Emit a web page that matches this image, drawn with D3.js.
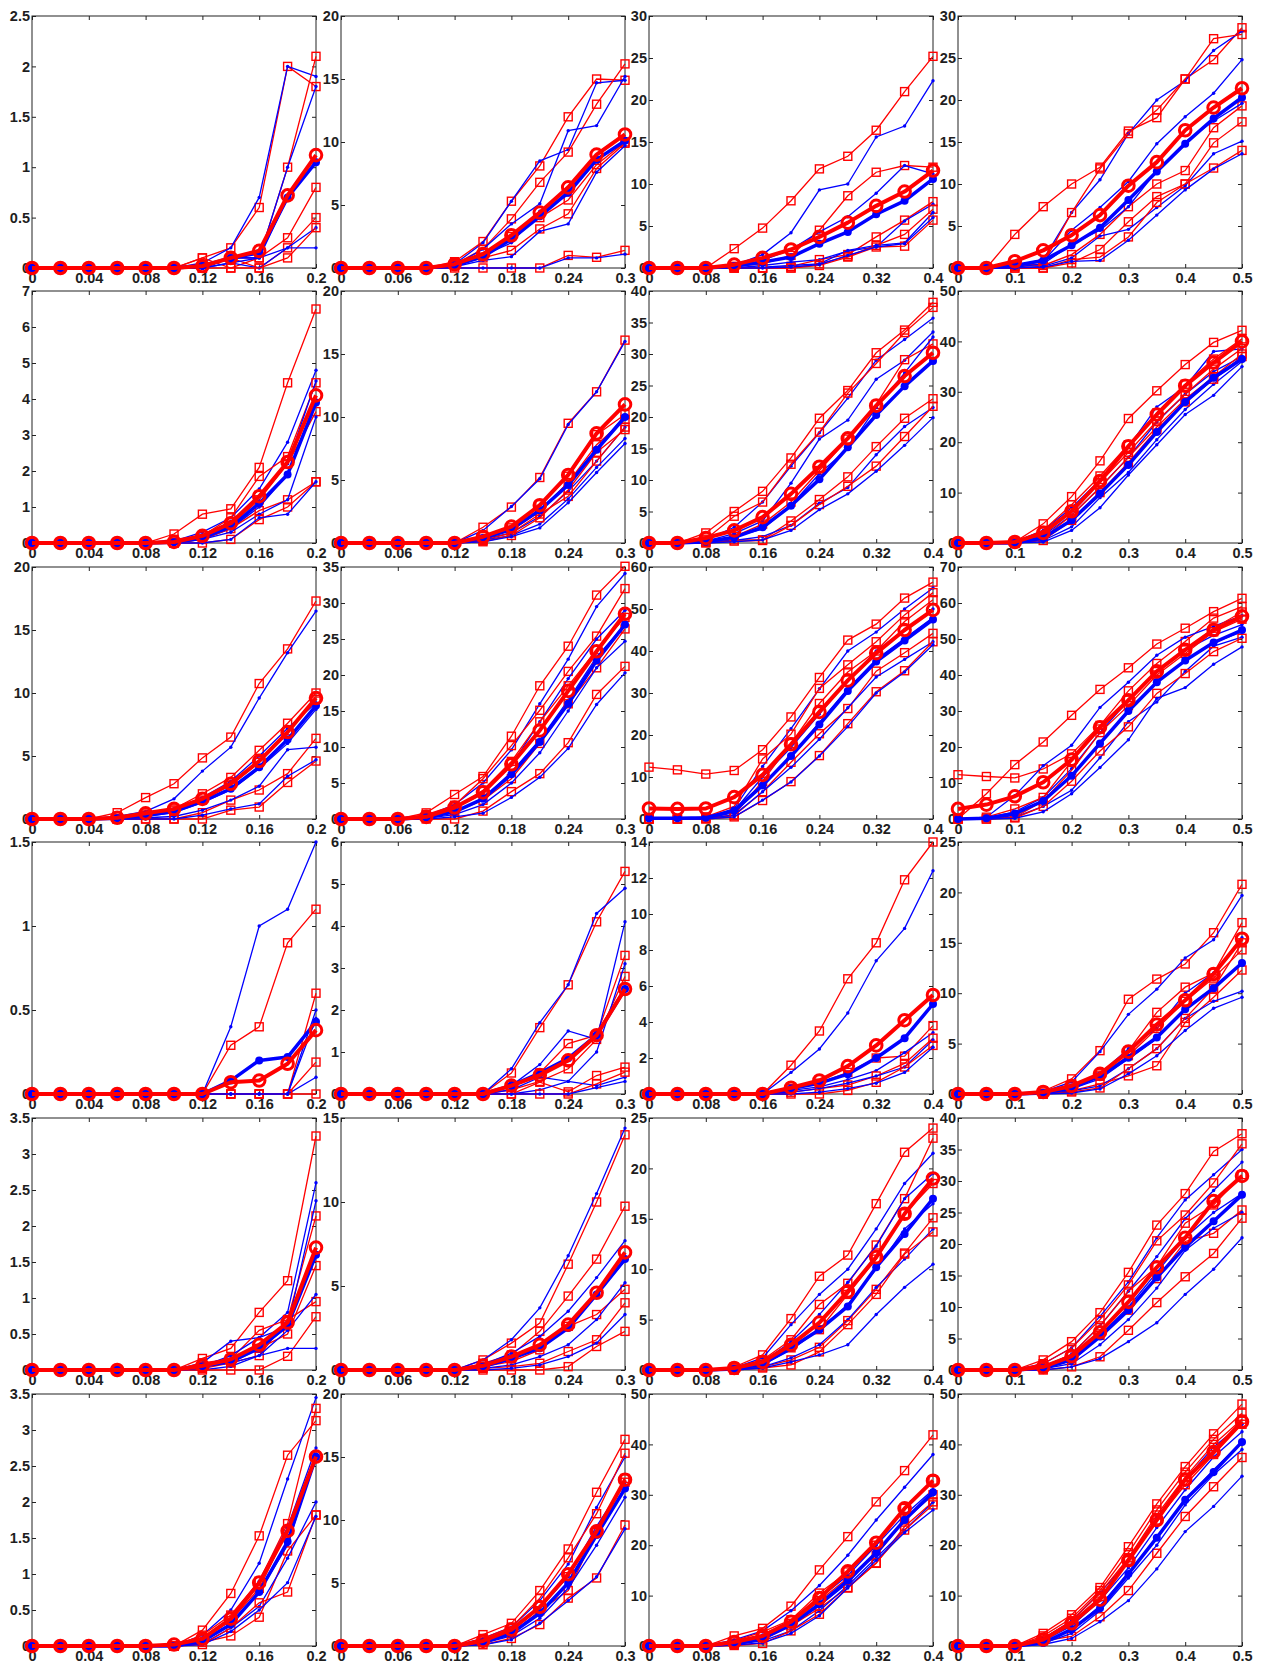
<!DOCTYPE html>
<html>
<head>
<meta charset="utf-8">
<script src="https://cdn.jsdelivr.net/npm/d3@7"></script>
<style>
  body { margin: 0; background: #fff; }
  svg text { font-family: "Liberation Sans", Arial, sans-serif; font-weight: bold; font-size: 14.5px; fill: #1e1e1e; }
</style>
</head>
<body>
<svg id="chart" width="1265" height="1664"></svg>
<script>
  // ---- x grid and ticks, one per column ----
  const colX = [
    [0, 0.02, 0.04, 0.06, 0.08, 0.1, 0.12, 0.14, 0.16, 0.18, 0.2],
    [0, 0.03, 0.06, 0.09, 0.12, 0.15, 0.18, 0.21, 0.24, 0.27, 0.3],
    [0, 0.04, 0.08, 0.12, 0.16, 0.2, 0.24, 0.28, 0.32, 0.36, 0.4],
    [0, 0.05, 0.1, 0.15, 0.2, 0.25, 0.3, 0.35, 0.4, 0.45, 0.5]
  ];
  const colXTicks = [
    [0, 0.04, 0.08, 0.12, 0.16, 0.2],
    [0, 0.06, 0.12, 0.18, 0.24, 0.3],
    [0, 0.08, 0.16, 0.24, 0.32, 0.4],
    [0, 0.1, 0.2, 0.3, 0.4, 0.5]
  ];

  // ---- y ticks, per row and column (last tick = top of axis) ----
  const yTicks = [
    [[0, 0.5, 1, 1.5, 2, 2.5], [0, 5, 10, 15, 20], [0, 5, 10, 15, 20, 25, 30], [0, 5, 10, 15, 20, 25, 30]],
    [[0, 1, 2, 3, 4, 5, 6, 7], [0, 5, 10, 15, 20], [0, 5, 10, 15, 20, 25, 30, 35, 40], [0, 10, 20, 30, 40, 50]],
    [[0, 5, 10, 15, 20], [0, 5, 10, 15, 20, 25, 30, 35], [0, 10, 20, 30, 40, 50, 60], [0, 10, 20, 30, 40, 50, 60, 70]],
    [[0, 0.5, 1, 1.5], [0, 1, 2, 3, 4, 5, 6], [0, 2, 4, 6, 8, 10, 12, 14], [0, 5, 10, 15, 20, 25]],
    [[0, 0.5, 1, 1.5, 2, 2.5, 3, 3.5], [0, 5, 10, 15], [0, 5, 10, 15, 20, 25], [0, 5, 10, 15, 20, 25, 30, 35, 40]],
    [[0, 0.5, 1, 1.5, 2, 2.5, 3, 3.5], [0, 5, 10, 15, 20], [0, 10, 20, 30, 40, 50], [0, 10, 20, 30, 40, 50]]
  ];

  // ---- row 1 ----
  const redR1C1 = [
    [0,0,0,0,0,0,0.1,0.2,0.6,2.0,1.8],
    [0,0,0,0,0,0,0,0.1,0.1,1.0,2.1],
    [0,0,0,0,0,0,0.1,0,0.1,0.3,0.8],
    [0,0,0,0,0,0,0,0.1,0,0.2,0.5],
    [0,0,0,0,0,0,0,0,0,0.1,0.4]
  ];
  const blueR1C1 = [
    [0,0,0,0,0,0,0.05,0.2,0.7,2.0,1.9],
    [0,0,0,0,0,0,0,0.1,0.1,1.0,1.8],
    [0,0,0,0,0,0,0,0.1,0.1,0.7,1.05],
    [0,0,0,0,0,0,0,0.05,0,0.2,0.4],
    [0,0,0,0,0,0,0,0.05,0.1,0.2,0.2]
  ];
  const blueMeanR1C1 = [0,0,0,0,0,0,0.02,0.1,0.15,0.7,1.05];
  const redMeanR1C1 = [0,0,0,0,0,0,0.02,0.1,0.17,0.72,1.12];

  const redR1C2 = [
    [0,0,0,0,0.5,2.1,5.3,8.1,12,15,14.9],
    [0,0,0,0,0.3,1.5,3.9,6.8,9.2,13,16.2],
    [0,0,0,0,0.3,1.2,2.5,4.0,5.4,8.2,10],
    [0,0,0,0,0.2,0.8,1.4,3.1,4.3,7.9,9.9],
    [0,0,0,0,0,0,0,0,1.0,0.85,1.4]
  ];
  const blueR1C2 = [
    [0,0,0,0,0.3,2.0,5.3,8.5,9.4,14.7,14.9],
    [0,0,0,0,0.2,1.5,3.5,5.1,10.9,11.3,15.2],
    [0,0,0,0,0.1,1.0,2.0,4.5,5.8,8.5,10.2],
    [0,0,0,0,0.1,0.6,0.9,2.9,3.5,7.6,9.7],
    [0,0,0,0,0,0,0,0,0.8,0.8,1.1]
  ];
  const blueMeanR1C2 = [0,0,0,0,0.2,0.9,2.3,4.1,6.0,8.6,10.1];
  const redMeanR1C2 = [0,0,0,0,0.3,1.1,2.6,4.4,6.4,9.0,10.6];

  const redR1C3 = [
    [0,0,0,2.3,4.75,8.0,11.8,13.3,16.4,21,25.2],
    [0,0,0,0.2,0.5,1.5,4.5,8.6,11.4,12.2,12.0],
    [0,0,0,0,0,0.2,1.0,1.6,3.7,5.7,7.9],
    [0,0,0,0,0,0,0.5,1.4,2.7,4.0,7.0],
    [0,0,0,0,0,0,0.3,1.3,2.5,2.6,5.7]
  ];
  const blueR1C3 = [
    [0,0,0,0.3,1.6,4.2,9.3,10,15.6,16.9,22.3],
    [0,0,0,0.2,0.9,2.2,4.3,6.1,8.9,12.2,11.2],
    [0,0,0,0,0.3,0.7,1.0,2.0,2.5,5.6,7.6],
    [0,0,0,0,0.1,0.3,0.5,2.1,2.7,3.0,6.6],
    [0,0,0,0,0,0.1,0.4,1.5,2.5,2.9,6.0]
  ];
  const blueMeanR1C3 = [0,0,0,0.2,0.7,1.3,2.9,4.3,6.4,8.0,10.6];
  const redMeanR1C3 = [0,0,0,0.4,1.2,2.2,3.7,5.4,7.4,9.1,11.6];

  const redR1C4 = [
    [0,0,4.0,7.3,10,12,16.3,17.9,22.5,24.8,28.6],
    [0,0,0.3,0.5,6.6,11.8,16,18.8,22.5,27.3,27.8],
    [0,0,0.2,0.3,1.6,4.0,7.3,10,11.6,16.7,19.3],
    [0,0,0,0,0.6,2.2,5.5,8.5,10,14.9,17.4],
    [0,0,0,0,1.0,1.3,3.7,7.8,10,11.9,14]
  ];
  const blueR1C4 = [
    [0,0,0.3,1.0,6.6,10.5,16,20,22.3,25.9,28.2],
    [0,0,0.2,0.8,4.5,7.2,10.3,14.8,18,20.8,24.8],
    [0,0,0.1,0.5,2.8,4.5,7.3,11.6,15,17.5,19.6],
    [0,0,0,0.2,1.2,3.8,4.6,7.2,9.8,13.6,15.1],
    [0,0,0,0.1,0.8,0.9,3.3,6.3,9.3,11.8,13.6]
  ];
  const blueMeanR1C4 = [0,0,0.3,0.9,2.7,4.8,8.1,11.5,14.8,17.8,20.3];
  const redMeanR1C4 = [0,0,0.8,2.1,3.9,6.3,9.8,12.6,16.4,19.1,21.4];

  // ---- row 2 ----
  const redR2C1 = [
    [0,0,0,0,0,0.25,0.8,0.95,2.1,4.45,6.5],
    [0,0,0,0,0,0.1,0.2,0.7,1.85,2.4,4.45],
    [0,0,0,0,0,0,0.2,0.5,1.2,2.2,3.65],
    [0,0,0,0,0,0,0.1,0.4,0.9,1.2,1.7],
    [0,0,0,0,0,0,0,0.1,0.65,1.0,1.7]
  ];
  const blueR2C1 = [
    [0,0,0,0,0,0.05,0.3,0.7,1.5,2.8,4.8],
    [0,0,0,0,0,0.05,0.2,0.6,1.3,2.2,4.5],
    [0,0,0,0,0,0,0.1,0.4,1.0,1.9,3.9],
    [0,0,0,0,0,0,0.1,0.3,0.8,1.2,3.5],
    [0,0,0,0,0,0,0,0.1,0.7,0.8,1.7]
  ];
  const blueMeanR2C1 = [0,0,0,0,0,0.02,0.15,0.45,1.1,1.9,3.9];
  const redMeanR2C1 = [0,0,0,0,0,0.03,0.2,0.55,1.3,2.25,4.1];

  const redR2C2 = [
    [0,0,0,0,0,1.25,2.85,5.2,9.5,12,16.1],
    [0,0,0,0,0,0.5,1.2,3.05,5.3,8.6,10.2],
    [0,0,0,0,0,0.3,1.0,2.5,4.8,7.8,9.8],
    [0,0,0,0,0,0.2,0.8,2.3,3.7,6.5,9.2],
    [0,0,0,0,0,0.1,0.6,2.0,4.2,7.2,9.0]
  ];
  const blueR2C2 = [
    [0,0,0,0,0,1.0,2.9,5.1,9.4,12,16],
    [0,0,0,0,0,0.4,1.0,2.6,4.8,7.5,10.1],
    [0,0,0,0,0,0.3,0.8,2.1,4.1,6.5,9.2],
    [0,0,0,0,0,0.2,0.6,1.5,3.5,6.0,8.3],
    [0,0,0,0,0,0.1,0.5,1.2,3.2,5.6,7.9]
  ];
  const blueMeanR2C2 = [0,0,0,0,0,0.4,1.1,2.6,4.6,7.4,10];
  const redMeanR2C2 = [0,0,0,0,0,0.5,1.3,3.0,5.4,8.7,11];

  const redR2C3 = [
    [0,0,1.6,5.0,8.2,13.5,19.8,24.2,30.2,33.8,38.2],
    [0,0,0.6,4.25,6.5,12.5,17.6,23.8,28.5,33.4,37.4],
    [0,0,0.2,1.0,3.0,6.5,11.5,16.5,22,29.1,31.6],
    [0,0,0.1,0.5,0.5,3.5,6.9,10.5,15.3,19.8,22.9],
    [0,0,0,0.3,0.4,2.8,6.1,9.0,12.2,16.9,21.7]
  ];
  const blueR2C3 = [
    [0,0,0.5,2.5,6.5,12.2,17.5,23,29,32.3,35.7],
    [0,0,0.3,1.5,3.5,9.5,16.5,19.5,26,29,33.5],
    [0,0,0.2,1.0,2.2,6.0,11,15,21.5,27,32.7],
    [0,0,0.1,0.4,1.0,2.8,6.3,8.8,14,18.5,21.5],
    [0,0,0,0.2,0.5,2.0,5.3,7.8,11.4,15.5,19.9]
  ];
  const blueMeanR2C3 = [0,0,0.2,0.9,2.5,5.9,10.1,15.2,20.3,24.9,28.9];
  const redMeanR2C3 = [0,0,0.8,2.0,4.1,7.8,12.1,16.6,21.8,26.5,30.2];

  const redR2C4 = [
    [0,0,0.2,3.8,9.2,16.3,24.7,30.2,35.4,39.8,42.2],
    [0,0,0.1,2.5,7.6,13.3,19.5,25.8,31.5,36.5,40.5],
    [0,0,0,1.5,6.5,12,18,24.2,29.5,34.5,38.6],
    [0,0,0,1.0,5.5,11,17,23,28.5,33,37.5],
    [0,0,0,0.5,4.5,10,16,22.5,28,32.5,37]
  ];
  const blueR2C4 = [
    [0,0,0.2,2.5,7.0,12.5,19,27,31,38,38.5],
    [0,0,0.1,1.5,5.5,11,17,24,29.5,34,37],
    [0,0,0,1.0,4.5,9.5,15.5,22,28,32.5,36.5],
    [0,0,0,0.5,3.2,9,14,20.5,26.5,31.5,36],
    [0,0,0,0.2,2.5,7,13.5,19.5,25.5,29.3,35]
  ];
  const blueMeanR2C4 = [0,0,0,1.0,4.5,9.8,15.5,22,28,32.8,36.5];
  const redMeanR2C4 = [0,0,0.2,2.0,6.3,12.3,19.2,25.5,31.2,35.8,40];

  // ---- row 3 ----
  const redR3C1 = [
    [0,0,0,0.5,1.7,2.8,4.85,6.5,10.75,13.5,17.3],
    [0,0,0,0.2,0.4,0.8,2.0,3.3,5.45,7.6,10],
    [0,0,0,0,0.3,0.7,1.5,2.7,4.5,7.0,9.5],
    [0,0,0,0,0,0,0.5,1.5,2.3,3.6,6.4],
    [0,0,0,0,0,0,0,0.7,0.95,2.9,4.6]
  ];
  const blueR3C1 = [
    [0,0,0,0.2,0.6,1.6,3.8,5.7,9.6,13.2,16.5],
    [0,0,0,0.1,0.4,0.8,1.7,3.0,5.0,7.2,9.2],
    [0,0,0,0,0.2,0.5,1.3,2.3,4.0,6.0,8.7],
    [0,0,0,0,0.1,0.2,0.7,1.5,2.6,5.5,5.7],
    [0,0,0,0,0,0,0.3,0.8,1.2,3.4,4.7]
  ];
  const blueMeanR3C1 = [0,0,0,0.05,0.3,0.6,1.4,2.4,4.1,6.3,9.0];
  const redMeanR3C1 = [0,0,0,0.1,0.45,0.8,1.6,2.8,4.6,6.9,9.6];

  const redR3C2 = [
    [0,0,0,0.85,3.4,5.9,11.5,18.5,24,31.1,35.1],
    [0,0,0,0.6,1.9,5.6,10.2,15.1,20.5,25.4,32],
    [0,0,0,0.4,1.5,4.0,8.0,13.5,18.5,23.5,28],
    [0,0,0,0.2,1.0,2.6,5.6,10.5,16.0,21.0,26.4],
    [0,0,0,0,0,1.1,3.8,6.3,10.6,17.3,21.2]
  ];
  const blueR3C2 = [
    [0,0,0,0.4,2.0,5.0,9.6,16.0,22.2,29.5,34.1],
    [0,0,0,0.3,1.5,3.5,7.5,13.5,19.5,25.0,29.0],
    [0,0,0,0.2,1.0,2.8,6.5,11.0,16.5,22.5,27.0],
    [0,0,0,0.1,0.6,2.0,5.0,9.2,15.0,21.0,24.7],
    [0,0,0,0,0.3,0.8,3.0,5.8,9.8,15.9,20.3]
  ];
  const blueMeanR3C2 = [0,0,0,0.2,1.0,2.8,6.2,10.7,16.0,22.0,27.0];
  const redMeanR3C2 = [0,0,0,0.3,1.6,3.7,7.6,12.3,17.8,23.3,28.5];

  const redR3C3 = [
    [12.35,11.7,10.7,11.55,16.5,24.3,33.7,42.6,46.4,52.6,56.4],
    [0,0,0.5,3.0,14.3,20.2,31.1,36.7,42.2,48.6,53.9],
    [0,0,0.2,1.0,9,18,27.5,35,40,47,52.2],
    [0,0,0.1,0.8,6.5,13.5,20.3,26.3,35.2,39.6,44.2],
    [0,0,0,0.5,4.4,8.9,15.1,22.7,30.3,35.3,42.2]
  ];
  const blueR3C3 = [
    [0,0,0.3,2.5,12.5,21.5,31,40,44.5,50,55],
    [0,0,0.2,2.0,10,17,25,33,40,45,50],
    [0,0,0.1,1.5,8,15,23,31,38,43,48],
    [0,0,0,1.0,6.5,12.3,19,26.5,33.8,38,42.2],
    [0,0,0,0.5,4.5,8.8,15,22,30,35,41.5]
  ];
  const blueMeanR3C3 = [0.2,0.2,0.3,2.0,8.0,15.0,22.5,30.5,37.5,42.5,47.5];
  const redMeanR3C3 = [2.5,2.4,2.5,5.2,10.5,17.8,25.5,33,39.5,45,49.8];

  const redR3C4 = [
    [12.3,11.8,11.4,13.9,18.1,26,35.6,43.2,49.3,55.8,59],
    [0,7,15.1,21.4,28.8,36,42,48.6,53,57.6,61.3],
    [0,0.5,2.8,6.0,16,25,33,41,47,53,57.5],
    [0,0,0.5,5,13.5,24,31.5,40,46,52,55.5],
    [0,0,0.3,3.5,10.5,18.9,25.6,34.9,40.4,46.5,50.2]
  ];
  const blueR3C4 = [
    [0,0.5,6.5,14.8,20.5,31,38,45.5,50.5,53.5,56.5],
    [0,0.3,2,6,14,24,33,41,47,51,54],
    [0,0,1,5,12,21,30,38,44,49,52],
    [0,0,0.5,3.5,8,17,27,32.5,41,48,50.5],
    [0,0,0.2,2,7,14.3,22,33.5,36.5,43,47.8]
  ];
  const blueMeanR3C4 = [0,0.2,1.5,5,12,21,30,38,44,49,52.5];
  const redMeanR3C4 = [2.8,4,6.3,10.2,16.5,25.5,33,41,47,52.5,56.3];

  // ---- row 4 ----
  const redR4C1 = [
    [0,0,0,0,0,0,0,0.29,0.4,0.9,1.1],
    [0,0,0,0,0,0,0,0,0,0,0.6],
    [0,0,0,0,0,0,0,0,0,0,0.19],
    [0,0,0,0,0,0,0,0,0,0,0]
  ];
  const blueR4C1 = [
    [0,0,0,0,0,0,0,0.4,1.0,1.1,1.5],
    [0,0,0,0,0,0,0,0,0,0,0.5],
    [0,0,0,0,0,0,0,0,0,0,0.1],
    [0,0,0,0,0,0,0,0,0,0,0.45]
  ];
  const blueMeanR4C1 = [0,0,0,0,0,0,0,0.08,0.2,0.22,0.43];
  const redMeanR4C1 = [0,0,0,0,0,0,0,0.07,0.08,0.18,0.38];

  const redR4C2 = [
    [0,0,0,0,0,0,0.5,1.58,2.6,4.1,5.3],
    [0,0,0,0,0,0,0.2,0.5,1.2,1.4,3.3],
    [0,0,0,0,0,0,0.1,0.3,0.6,1.3,2.8],
    [0,0,0,0,0,0,0,0.28,0.05,0.44,0.64],
    [0,0,0,0,0,0,0,0,0,0.24,0.52]
  ];
  const blueR4C2 = [
    [0,0,0,0,0,0,0.6,1.7,2.6,4.3,4.9],
    [0,0,0,0,0,0,0.2,0.7,1.5,1.3,4.1],
    [0,0,0,0,0,0,0.1,0.4,0.3,1.0,3.1],
    [0,0,0,0,0,0,0,0.1,0.3,0.2,0.4],
    [0,0,0,0,0,0,0,0,0,0.15,0.3]
  ];
  const blueMeanR4C2 = [0,0,0,0,0,0,0.2,0.5,0.85,1.4,2.5];
  const redMeanR4C2 = [0,0,0,0,0,0,0.2,0.45,0.8,1.4,2.5];

  const redR4C3 = [
    [0,0,0,0,0,1.6,3.5,6.4,8.4,11.9,14],
    [0,0,0,0,0,0.3,0.6,1.2,2.0,2.1,3.8],
    [0,0,0,0,0,0.1,0.3,0.5,1.0,1.7,3.1],
    [0,0,0,0,0,0,0,0.2,0.65,1.5,2.7]
  ];
  const blueR4C3 = [
    [0,0,0,0,0,1.2,2.5,4.5,7.4,9.2,12.4],
    [0,0,0,0,0,0.2,0.4,0.8,1.3,2.3,3.4],
    [0,0,0,0,0,0.1,0.3,0.6,1.0,1.5,3.0],
    [0,0,0,0,0,0,0.1,0.3,0.6,1.2,2.6]
  ];
  const blueMeanR4C3 = [0,0,0,0,0,0.3,0.6,1.1,2.0,3.1,5.0];
  const redMeanR4C3 = [0,0,0,0,0,0.35,0.75,1.55,2.7,4.1,5.5];

  const redR4C4 = [
    [0,0,0,0.3,1.5,4.3,9.4,11.4,12.9,16,20.8],
    [0,0,0,0.1,0.8,2.0,4.3,8.1,10.6,12,17],
    [0,0,0,0,0.5,1.8,3.8,6.5,9.2,11.5,14.3],
    [0,0,0,0,0.3,1.0,1.8,2.8,7.1,9.6,12.3],
    [0,0,0,0,0.2,0.6,2.5,4.5,7.5,10.5,15]
  ];
  const blueR4C4 = [
    [0,0,0,0.2,1.2,4.2,7.9,10.4,13.5,15.3,19.7],
    [0,0,0,0.1,0.8,2.0,4.5,6.5,10,12,15.5],
    [0,0,0,0,0.5,1.5,3.5,5.5,8.5,10.5,13],
    [0,0,0,0,0.3,0.8,2.5,4.5,7.5,9.2,10.2],
    [0,0,0,0,0.1,0.5,2.0,3.8,6.3,8.5,9.6]
  ];
  const blueMeanR4C4 = [0,0,0,0.1,0.6,1.8,3.6,5.6,8.4,10.5,13];
  const redMeanR4C4 = [0,0,0,0.2,0.8,2.0,4.2,6.9,9.3,11.9,15.4];

  // ---- row 5 ----
  const redR5C1 = [
    [0,0,0,0,0,0,0.16,0.3,0.8,1.24,3.25],
    [0,0,0,0,0,0,0.1,0.15,0.55,0.7,2.14],
    [0,0,0,0,0,0,0.05,0.1,0.3,0.5,1.45],
    [0,0,0,0,0,0,0.02,0.1,0.2,0.7,0.95],
    [0,0,0,0,0,0,0,0,0,0.19,0.74]
  ];
  const blueR5C1 = [
    [0,0,0,0,0,0,0.1,0.4,0.45,0.8,2.6],
    [0,0,0,0,0,0,0.05,0.2,0.45,0.6,2.35],
    [0,0,0,0,0,0,0.05,0.1,0.3,0.6,1.6],
    [0,0,0,0,0,0,0,0.05,0.2,0.55,1.05],
    [0,0,0,0,0,0,0.05,0.1,0.2,0.3,0.3]
  ];
  const blueMeanR5C1 = [0,0,0,0,0,0,0.05,0.12,0.3,0.62,1.6];
  const redMeanR5C1 = [0,0,0,0,0,0,0.06,0.15,0.35,0.66,1.7];

  const redR5C2 = [
    [0,0,0,0,0,0.6,1.6,2.8,6.3,10,14],
    [0,0,0,0,0,0.4,0.9,2.3,4.4,6.6,9.75],
    [0,0,0,0,0,0.2,0.5,1.2,2.6,3.3,4.8],
    [0,0,0,0,0,0.1,0.2,0.4,1.1,1.8,4.0],
    [0,0,0,0,0,0,0,0,0.2,1.4,2.3]
  ];
  const blueR5C2 = [
    [0,0,0,0,0,0.6,1.8,3.7,6.8,10.5,14.4],
    [0,0,0,0,0,0.3,1.0,2.0,3.5,5.5,7.7],
    [0,0,0,0,0,0.2,0.6,1.4,2.5,4.5,6.5],
    [0,0,0,0,0,0.1,0.3,0.8,1.5,3.0,5.2],
    [0,0,0,0,0,0,0.1,0.3,0.8,1.6,3.3]
  ];
  const blueMeanR5C2 = [0,0,0,0,0,0.2,0.7,1.3,2.5,4.5,6.6];
  const redMeanR5C2 = [0,0,0,0,0,0.25,0.8,1.5,2.7,4.6,7.0];

  const redR5C3 = [
    [0,0,0,0.3,1.5,5.1,9.3,11.4,16.5,21.6,24],
    [0,0,0,0.2,1.0,3.0,6.5,8.6,12.4,17.0,23],
    [0,0,0,0.1,0.5,2.2,4.0,7.5,11,15.5,18.5],
    [0,0,0,0,0.3,1.0,2.25,4.9,8.0,11.6,15.1],
    [0,0,0,0,0.2,0.5,1.8,4.5,7.5,11.5,13.7]
  ];
  const blueR5C3 = [
    [0,0,0,0.2,1.2,4.5,7.5,10,14,18.5,21.5],
    [0,0,0,0.1,0.8,2.8,5.5,8.7,12.3,17,19.5],
    [0,0,0,0,0.5,2.0,4.0,6.5,10,14,16.5],
    [0,0,0,0,0.3,1.2,2.5,5,8.2,11,14],
    [0,0,0,0,0.2,0.8,1.5,2.5,5.5,8.2,10.5]
  ];
  const blueMeanR5C3 = [0,0,0,0.1,0.6,2.2,4.0,6.3,10.2,13.5,17];
  const redMeanR5C3 = [0,0,0,0.2,0.8,2.5,4.7,7.8,11.2,15.5,19];

  const redR5C4 = [
    [0,0,0,1.6,4.5,9.1,15.5,23,28,34.7,37.5],
    [0,0,0,1.0,3.5,8,13.5,20.5,24.6,29.7,35.9],
    [0,0,0,0.5,2.5,7,12.5,16.4,23.3,26.2,31],
    [0,0,0,0.2,1.5,5.5,9.5,14.5,20.4,21.7,25.4],
    [0,0,0,0,0.5,2.1,6.3,10.7,14.8,18.5,24.1]
  ];
  const blueR5C4 = [
    [0,0,0,1.0,3.5,8.5,14,21,27,31,35],
    [0,0,0,0.5,2.5,7,12.5,18,24,28.5,33],
    [0,0,0,0.3,1.5,5.5,10,15.5,21,25,28],
    [0,0,0,0.2,1.0,4,8,13,19,22.5,25],
    [0,0,0,0,0.5,1.8,4.5,7.5,12,16,21]
  ];
  const blueMeanR5C4 = [0,0,0,0.3,1.6,5.3,9.5,14.7,19.5,23.6,27.8];
  const redMeanR5C4 = [0,0,0,0.5,2.2,6.0,10.8,16.3,21,26.8,30.8];

  // ---- row 6 ----
  const redR6C1 = [
    [0,0,0,0,0,0,0.22,0.73,1.53,2.65,3.13],
    [0,0,0,0,0,0,0.15,0.43,0.9,1.7,3.3],
    [0,0,0,0,0,0,0.1,0.35,0.8,1.6,2.64],
    [0,0,0,0,0,0,0.05,0.14,0.4,1.32,1.82],
    [0,0,0,0,0,0,0.02,0.25,0.6,0.75,1.82]
  ];
  const blueR6C1 = [
    [0,0,0,0,0,0,0.15,0.5,1.15,2.32,3.45],
    [0,0,0,0,0,0,0.1,0.35,0.9,1.65,2.75],
    [0,0,0,0,0,0,0.05,0.3,0.75,1.4,2.65],
    [0,0,0,0,0,0,0.03,0.25,0.55,1.22,2.0],
    [0,0,0,0,0,0,0.02,0.2,0.5,0.88,1.8]
  ];
  const blueMeanR6C1 = [0,0,0,0,0,0,0.07,0.3,0.75,1.45,2.63];
  const redMeanR6C1 = [0,0,0,0,0,0.02,0.1,0.38,0.88,1.6,2.63];

  const redR6C2 = [
    [0,0,0,0,0,0.9,1.8,4.4,7.7,12.2,16.4],
    [0,0,0,0,0,0.6,1.5,3.8,7.0,10.5,15.3],
    [0,0,0,0,0,0.4,1.2,3.2,5.5,9.1,13.3],
    [0,0,0,0,0,0.3,1.0,2.8,4.4,9.0,13.0],
    [0,0,0,0,0,0.1,0.6,1.7,3.8,5.4,9.6]
  ];
  const blueR6C2 = [
    [0,0,0,0,0,0.6,1.5,3.6,6.5,11,15],
    [0,0,0,0,0,0.4,1.2,3.0,5.5,9.5,13],
    [0,0,0,0,0,0.3,1.0,2.6,5.0,8.8,12.5],
    [0,0,0,0,0,0.2,0.8,2.2,4.6,8.0,11.8],
    [0,0,0,0,0,0.1,0.5,1.8,3.6,5.5,9.3]
  ];
  const blueMeanR6C2 = [0,0,0,0,0,0.3,1.0,2.6,5.0,8.8,12.5];
  const redMeanR6C2 = [0,0,0,0,0,0.4,1.3,3.1,5.7,9.1,13.2];

  const redR6C3 = [
    [0,0,0,2.0,3.5,7.9,15.1,21.7,28.6,34.8,41.9],
    [0,0,0,1.0,2.8,5.2,10.5,14.7,20.0,27.3,32.9],
    [0,0,0,0.6,2.0,4.5,9.0,13.5,18,25,30],
    [0,0,0,0.3,1.2,4.0,7.5,11.6,16.4,23.7,28.6],
    [0,0,0,0.1,0.5,3.0,6.3,11.5,16.5,23.0,28]
  ];
  const blueR6C3 = [
    [0,0,0,1.2,3.0,7.0,12,18,25,31.5,38],
    [0,0,0,0.8,2.2,5,9.5,14,20,26,31],
    [0,0,0,0.5,1.5,4,8,12.5,18.5,25,30],
    [0,0,0,0.3,1.0,3,7,12,17.5,23,28.5],
    [0,0,0,0.2,0.6,2.5,6,11.5,17,22.5,27]
  ];
  const blueMeanR6C3 = [0,0,0,0.5,1.5,4.2,8.3,13,18.5,25,30.5];
  const redMeanR6C3 = [0,0,0,0.8,2.0,4.8,9.5,14.8,20.5,27.3,32.8];

  const redR6C4 = [
    [0,0,0,2.5,6.2,11.6,19.7,28.2,35.6,42.1,48],
    [0,0,0,2.0,5.5,11,18.5,27,34.5,41,46.2],
    [0,0,0,1.5,5,10.5,17.5,26,33.5,40,45],
    [0,0,0,1.0,1.9,5.8,11,18.4,25.7,31.6,37.4],
    [0,0,0,1.2,4.5,9.8,17,25,32,38,44]
  ];
  const blueR6C4 = [
    [0,0,0,1.5,5,10.5,17,25.5,33,39.5,44],
    [0,0,0,1.0,4.0,9,15.5,23.5,31,37.5,42.5],
    [0,0,0,0.7,3.2,8,14.5,21.5,29,35,40.5],
    [0,0,0,0.5,2.5,7,13.5,20,28,34,39],
    [0,0,0,0.3,1.5,4.8,9,15.3,22.7,27.7,33.7]
  ];
  const blueMeanR6C4 = [0,0,0,0.6,3.3,7.5,14.3,21.5,29,34.5,40.5];
  const redMeanR6C4 = [0,0,0,1.3,4.5,9.2,17,25,33,38.5,44.5];

  // panels in reading order: [thin red, thin blue, blue mean, red mean]
  const panels = [
    [[redR1C1, blueR1C1, blueMeanR1C1, redMeanR1C1], [redR1C2, blueR1C2, blueMeanR1C2, redMeanR1C2],
     [redR1C3, blueR1C3, blueMeanR1C3, redMeanR1C3], [redR1C4, blueR1C4, blueMeanR1C4, redMeanR1C4]],
    [[redR2C1, blueR2C1, blueMeanR2C1, redMeanR2C1], [redR2C2, blueR2C2, blueMeanR2C2, redMeanR2C2],
     [redR2C3, blueR2C3, blueMeanR2C3, redMeanR2C3], [redR2C4, blueR2C4, blueMeanR2C4, redMeanR2C4]],
    [[redR3C1, blueR3C1, blueMeanR3C1, redMeanR3C1], [redR3C2, blueR3C2, blueMeanR3C2, redMeanR3C2],
     [redR3C3, blueR3C3, blueMeanR3C3, redMeanR3C3], [redR3C4, blueR3C4, blueMeanR3C4, redMeanR3C4]],
    [[redR4C1, blueR4C1, blueMeanR4C1, redMeanR4C1], [redR4C2, blueR4C2, blueMeanR4C2, redMeanR4C2],
     [redR4C3, blueR4C3, blueMeanR4C3, redMeanR4C3], [redR4C4, blueR4C4, blueMeanR4C4, redMeanR4C4]],
    [[redR5C1, blueR5C1, blueMeanR5C1, redMeanR5C1], [redR5C2, blueR5C2, blueMeanR5C2, redMeanR5C2],
     [redR5C3, blueR5C3, blueMeanR5C3, redMeanR5C3], [redR5C4, blueR5C4, blueMeanR5C4, redMeanR5C4]],
    [[redR6C1, blueR6C1, blueMeanR6C1, redMeanR6C1], [redR6C2, blueR6C2, blueMeanR6C2, redMeanR6C2],
     [redR6C3, blueR6C3, blueMeanR6C3, redMeanR6C3], [redR6C4, blueR6C4, blueMeanR6C4, redMeanR6C4]]
  ];

  // ============================================================
  // Layout
  // ============================================================
  const colLeft = [32, 341, 649, 958];
  const rowTop = [16, 291, 567, 842, 1118, 1394];
  const pw = 284, ph = 252;
  const BLUE = "#0000ff", RED = "#ff0000";
  const fmt = d3.format("~g");

  const svg = d3.select("#chart");

  function drawPanel(r, c) {
    const [reds, blues, blueMean, redMean] = panels[r][c];
    const xv = colX[c];
    const yt = yTicks[r][c];
    const g = svg.append("g").attr("transform", `translate(${colLeft[c]},${rowTop[r]})`);

    const x = d3.scaleLinear().domain([0, xv[xv.length - 1]]).range([0, pw]);
    const y = d3.scaleLinear().domain([0, yt[yt.length - 1]]).range([ph, 0]);

    // axes, ticks pointing inward on all four sides
    const bottom = g.append("g").attr("transform", `translate(0,${ph})`)
      .call(d3.axisBottom(x).tickValues(colXTicks[c]).tickSizeInner(-4).tickSizeOuter(0)
        .tickPadding(4).tickFormat(fmt));
    g.append("g")
      .call(d3.axisTop(x).tickValues(colXTicks[c]).tickSizeInner(-4).tickSizeOuter(0).tickFormat(""));
    g.append("g")
      .call(d3.axisLeft(y).tickValues(yt).tickSizeInner(-4).tickSizeOuter(0)
        .tickPadding(2).tickFormat(fmt));
    g.append("g").attr("transform", `translate(${pw},0)`)
      .call(d3.axisRight(y).tickValues(yt).tickSizeInner(-4).tickSizeOuter(0).tickFormat(""));
    g.selectAll(".domain").remove();
    g.selectAll(".tick line").attr("stroke", "#222");
    g.selectAll(".tick text").attr("fill", "#1e1e1e").attr("font-size", null).attr("font-family", null);
    bottom.selectAll(".tick text").attr("dy", "0.78em");

    g.append("rect").attr("width", pw).attr("height", ph)
      .attr("fill", "none").attr("stroke", "#222").attr("stroke-width", 1);

    const line = d3.line().x((d, i) => x(xv[i])).y(d => y(d));

    // thin series, pairwise: red squares then blue dots
    const n = Math.max(reds.length, blues.length);
    for (let k = 0; k < n; k++) {
      const rs = reds[k], bs = blues[k];
      if (rs) {
        g.append("path").attr("d", line(rs)).attr("fill", "none")
          .attr("stroke", RED).attr("stroke-width", 1.3);
        g.append("g").selectAll("rect").data(rs).join("rect")
          .attr("x", (d, i) => x(xv[i]) - 4).attr("y", d => y(d) - 4)
          .attr("width", 8).attr("height", 8)
          .attr("fill", "none").attr("stroke", RED).attr("stroke-width", 1.4);
      }
      if (bs) {
        g.append("path").attr("d", line(bs)).attr("fill", "none")
          .attr("stroke", BLUE).attr("stroke-width", 1.3);
        g.append("g").selectAll("circle").data(bs).join("circle")
          .attr("cx", (d, i) => x(xv[i])).attr("cy", d => y(d)).attr("r", 1.7)
          .attr("fill", BLUE);
      }
    }

    // thick means
    g.append("path").attr("d", line(blueMean)).attr("fill", "none")
      .attr("stroke", BLUE).attr("stroke-width", 3.5).attr("stroke-linejoin", "round");
    g.append("g").selectAll("circle").data(blueMean).join("circle")
      .attr("cx", (d, i) => x(xv[i])).attr("cy", d => y(d)).attr("r", 4)
      .attr("fill", BLUE);

    g.append("path").attr("d", line(redMean)).attr("fill", "none")
      .attr("stroke", RED).attr("stroke-width", 4).attr("stroke-linejoin", "round");
    g.append("g").selectAll("circle").data(redMean).join("circle")
      .attr("cx", (d, i) => x(xv[i])).attr("cy", d => y(d)).attr("r", 5.8)
      .attr("fill", "none").attr("stroke", RED).attr("stroke-width", 3);
  }

  for (let r = 0; r < 6; r++) {
    for (let c = 0; c < 4; c++) drawPanel(r, c);
  }
</script>
</body>
</html>
